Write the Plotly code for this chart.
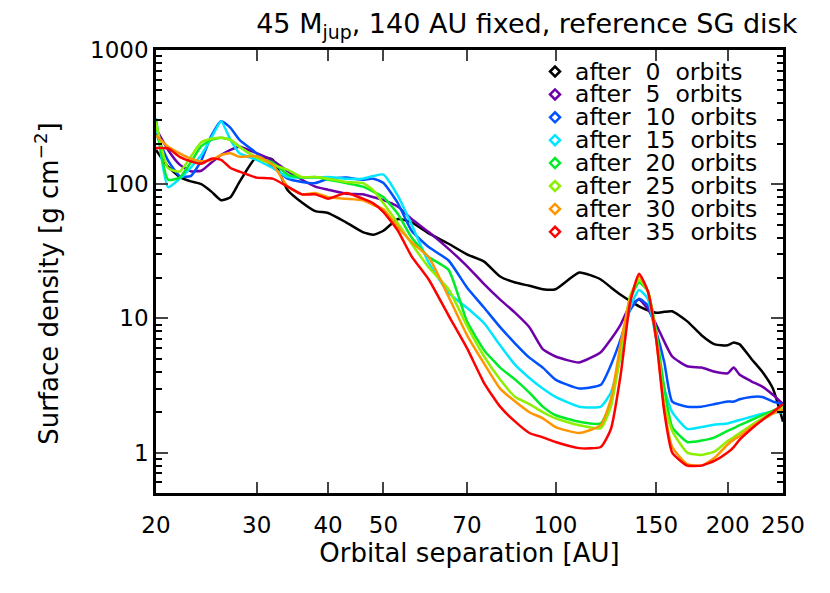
import plotly.graph_objects as go
import math

# Orbital separation grid [AU]
radius = [20, 21, 22, 23, 24, 25, 26, 27, 28, 30, 32, 34, 36, 38, 40, 43, 46, 48, 50, 53, 56,
          60, 65, 70, 75, 80, 85, 90, 95, 100, 110, 120, 125, 130, 135, 140, 145, 150, 155,
          160, 170, 180, 190, 200, 205, 210, 220, 230, 240, 250]

# Surface density [g cm^-2] after N orbits
sd_0 = [180, 135, 113, 105, 100, 88, 76, 80, 104, 160, 152, 90, 73, 63, 61, 52, 44, 42, 45, 55, 52,
        43, 36, 30, 26.5, 20.5, 18.5, 17.5, 16.5, 16.5, 22, 19.5, 17, 15, 13.5, 12.3, 11.5, 11, 11.2,
        11.3, 9.5, 7.5, 6.4, 6.3, 6.6, 6.4, 5.0, 4.0, 3.0, 1.7]
sd_5 = [260, 180, 140, 125, 126, 145, 165, 180, 190, 170, 150, 125, 108, 96, 91, 85, 84, 80, 76, 68, 55,
        44, 33, 24.5, 18, 13.8, 11, 8.6, 5.9, 5.2, 4.7, 5.6, 7, 9, 12.5, 13.8, 11.8, 9, 6.7,
        5.2, 4.4, 4.3, 4.0, 3.9, 4.3, 3.8, 3.4, 3.1, 2.7, 2.3]
sd_10 = [240, 150, 115, 115, 150, 230, 295, 263, 214, 170, 135, 110, 104, 102, 110, 112, 108, 110, 102, 72, 45,
         34, 27, 17, 12, 8.6, 6.5, 5.1, 4.3, 3.5, 3.0, 3.2, 4.5, 7, 11.5, 14, 12.5, 8, 4.7,
         2.4, 2.2, 2.2, 2.3, 2.4, 2.4, 2.5, 2.6, 2.6, 2.4, 2.3]
sd_15 = [310, 95, 110, 133, 165, 222, 295, 214, 170, 152, 132, 113, 112, 112, 113, 110, 110, 115, 118, 82, 50,
         26, 15.5, 12, 9.2, 6.3, 4.5, 3.6, 3.0, 2.6, 2.2, 2.2, 2.8, 5.3, 12, 16.3, 14, 7, 3.0,
         2.0, 1.5, 1.55, 1.62, 1.65, 1.7, 1.75, 1.85, 1.95, 2.0, 2.0]
sd_20 = [300, 108, 112, 145, 192, 214, 222, 214, 190, 157, 145, 118, 112, 113, 108, 102, 96, 88, 80, 60, 40,
         28.7, 23, 9.5, 5.8, 4.3, 3.5, 2.8, 2.2, 1.9, 1.7, 1.65, 2.4, 5.5, 13.8, 18.5, 16, 8, 3.0,
         1.55, 1.2, 1.23, 1.3, 1.45, 1.52, 1.6, 1.75, 1.9, 2.05, 2.2]
sd_25 = [290, 132, 124, 160, 205, 218, 222, 214, 190, 158, 140, 128, 113, 113, 110, 104, 102, 90, 72, 51, 36,
         24, 16.5, 8.8, 5.2, 3.5, 2.6, 2.3, 2.0, 1.8, 1.6, 1.52, 2.2, 5.5, 14.7, 19.4, 16, 7.5, 2.3,
         1.45, 1.0, 0.96, 1.02, 1.22, 1.3, 1.4, 1.6, 1.8, 2.0, 2.2]
sd_30 = [232, 190, 170, 155, 148, 152, 165, 170, 160, 162, 140, 96, 84, 86, 80, 78, 76, 70, 65, 48, 37,
         28.5, 14.5, 7.5, 4.6, 3.0, 2.4, 2.0, 1.8, 1.55, 1.4, 1.6, 2.5, 6.5, 14, 20.5, 16, 7, 2.1,
         1.1, 0.82, 0.8, 0.92, 1.15, 1.25, 1.33, 1.55, 1.75, 1.95, 2.1]
sd_35 = [186, 185, 160, 148, 142, 155, 152, 132, 124, 112, 110, 96, 84, 84, 78, 86, 78, 72, 62, 45, 29,
         19.5, 10.5, 6, 3.3, 2.2, 1.7, 1.4, 1.3, 1.2, 1.08, 1.1, 1.5, 3.8, 13, 21.5, 16, 7, 2.0,
         1.0, 0.8, 0.8, 0.87, 1.0, 1.1, 1.25, 1.5, 1.75, 2.0, 2.3]

orbits = [0, 5, 10, 15, 20, 25, 30, 35]
profiles = [sd_0, sd_5, sd_10, sd_15, sd_20, sd_25, sd_30, sd_35]
colors = ['rgb(0,0,0)', 'rgb(110,0,170)', 'rgb(0,80,255)', 'rgb(0,230,255)',
          'rgb(0,235,40)', 'rgb(140,240,0)', 'rgb(255,150,0)', 'rgb(255,0,0)']

x_ticks = [20, 30, 40, 50, 70, 100, 150, 200, 250]
y_ticks = [1, 10, 100, 1000]
y_minor = [m * d for d in [0.1, 1, 10, 100] for m in range(2, 10) if m * d >= 0.5]

font = "DejaVu Sans"
nb = '\u00a0'

fig = go.Figure()
for n, vals, col in zip(orbits, profiles, colors):
    fig.add_trace(go.Scatter(x=radius, y=vals, mode='lines', showlegend=False,
                             name=f"after {n} orbits",
                             line=dict(color=col, width=2.5, shape='spline', smoothing=0.5)))

# legend drawn by hand: open diamonds + text, IDL style
plot_w, plot_h = 627, 443
row0, row_gap = 21.5, 22.9   # px below top of plot
for i, (n, col) in enumerate(zip(orbits, colors)):
    yc = 1 - (row0 + i * row_gap) / plot_h
    xc = 0.6364
    dx, dy = 5 / plot_w, 5 / plot_h
    fig.add_shape(type='path', xref='paper', yref='paper',
                  path=f"M {xc - dx} {yc} L {xc} {yc + dy} L {xc + dx} {yc} L {xc} {yc - dy} Z",
                  line=dict(color=col, width=2.5))
    fig.add_annotation(x=0.665, y=yc, xref='paper', yref='paper', xanchor='left', yanchor='middle',
                       text=f"after{nb}{nb}{n}{nb}{nb}orbits", showarrow=False,
                       font=dict(size=23.5, color='black'))

# y axis title (placed a little below the axis centre, as in the original)
fig.add_annotation(x=-0.174, y=0.472, xref='paper', yref='paper', xanchor='center', yanchor='middle',
                   text="Surface density [g cm<sup>\u22122</sup>]", textangle=-90, showarrow=False,
                   font=dict(size=26, color='black'))

fig.update_layout(
    width=830, height=593,
    margin=dict(l=148, r=55, t=42, b=108),
    plot_bgcolor='white', paper_bgcolor='white',
    font=dict(family=font, size=23, color='black'),
    title=dict(text="45 M<sub>jup</sub>, 140 AU fixed, reference SG disk",
               x=0.625, xanchor='center', y=0.974, yanchor='middle',
               font=dict(size=27)),
    xaxis=dict(type='log', range=[math.log10(20), math.log10(250)],
               tickvals=x_ticks, ticktext=[str(v) for v in x_ticks],
               ticks='inside', ticklen=11, tickwidth=2, mirror='allticks',
               showline=True, linewidth=2.5, linecolor='black', showgrid=False, zeroline=False,
               ticklabelstandoff=10,
               title=dict(text="Orbital separation [AU]", standoff=3, font=dict(size=26))),
    yaxis=dict(type='log', range=[math.log10(0.5), 3],
               tickvals=y_ticks, ticktext=[str(v) for v in y_ticks],
               ticks='inside', ticklen=12, tickwidth=2, mirror='allticks',
               showline=True, linewidth=2.5, linecolor='black', showgrid=False, zeroline=False,
               minor=dict(tickvals=y_minor, ticks='inside', ticklen=6, tickwidth=2, tickcolor='black', showgrid=False)),
    showlegend=False,
)

fig.write_html("out.html")
